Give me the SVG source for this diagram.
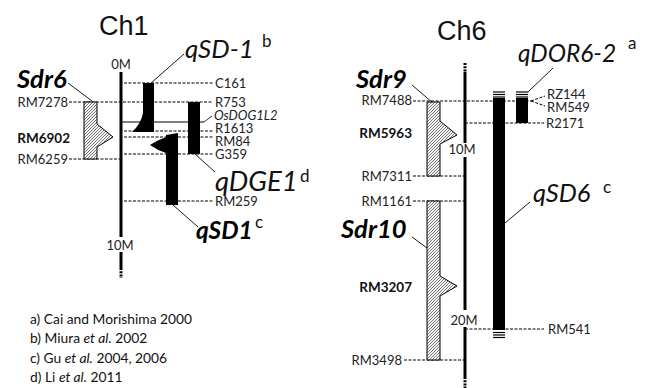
<svg xmlns="http://www.w3.org/2000/svg" width="646" height="388" viewBox="0 0 646 388">
<defs>
<pattern id="hatch" patternUnits="userSpaceOnUse" width="3" height="3">
<rect width="3" height="3" fill="#f4f4f4"/>
<path d="M-1,1 L1,-1 M0,3 L3,0 M2,4 L4,2" stroke="#444" stroke-width="0.7"/>
</pattern>
<style>
.lbl{font-family:Lato,"Liberation Sans",sans-serif;font-size:13px;fill:#222}
.bl{font-family:Lato,"Liberation Sans",sans-serif;font-size:13.5px;font-weight:bold;fill:#111}
.ti{font-family:"Liberation Sans",Arial,sans-serif;font-size:27px;fill:#111}
.q{font-family:Lato,"Liberation Sans",sans-serif;font-style:italic;fill:#111}
.sdr{font-family:Lato,"Liberation Sans",sans-serif;font-style:italic;font-weight:bold;fill:#000}
.sup{font-family:Lato,"Liberation Sans",sans-serif;font-size:17px;fill:#111}
.dash{stroke:#000;stroke-width:1;stroke-dasharray:3 1.5;fill:none}
.lead{stroke:#000;stroke-width:0.9;fill:none}
.chr{stroke:#000;stroke-width:3;fill:none}
.hat{fill:url(#hatch);stroke:#000;stroke-width:1}
.bar{fill:#000}
.stripe{stroke:#000;stroke-width:1.2}
.ref{font-family:Lato,"Liberation Sans",sans-serif;font-size:13.8px;fill:#111}
</style>
</defs>
<rect width="646" height="388" fill="#fff"/>

<g id="connectors">
<line class="dash" x1="69" y1="102" x2="213" y2="102"/>
<line class="dash" x1="124" y1="83" x2="213" y2="83"/>
<line x1="121" y1="122" x2="204" y2="122" stroke="#000" stroke-width="1"/>
<line x1="204" y1="122" x2="212" y2="116" stroke="#000" stroke-width="0.8"/>
<line class="dash" x1="124" y1="131" x2="213" y2="131"/>
<line class="dash" x1="124" y1="137" x2="213" y2="137"/>
<line class="dash" x1="124" y1="154" x2="213" y2="154"/>
<line class="dash" x1="69" y1="159" x2="121" y2="159"/>
<line class="dash" x1="124" y1="201" x2="213" y2="201"/>
<line class="dash" x1="413" y1="101" x2="531" y2="101"/>
<line class="dash" x1="531" y1="101" x2="545" y2="96"/>
<line class="dash" x1="531" y1="101" x2="545" y2="106"/>
<line class="dash" x1="465" y1="123" x2="544" y2="123"/>
<line class="dash" x1="413" y1="176" x2="465" y2="176"/>
<line class="dash" x1="413" y1="201" x2="465" y2="201"/>
<line class="dash" x1="465" y1="329" x2="544" y2="329"/>
<line class="dash" x1="404" y1="360" x2="465" y2="360"/>
<line class="lead" x1="68" y1="83" x2="92" y2="101"/>
<line class="lead" x1="151" y1="83" x2="184" y2="54"/>
<line class="lead" x1="195" y1="154" x2="215" y2="172"/>
<line class="lead" x1="173" y1="205" x2="198" y2="227"/>
<line class="lead" x1="412" y1="85" x2="433" y2="103"/>
<line class="lead" x1="528" y1="92" x2="553" y2="68"/>
<line class="lead" x1="505" y1="223" x2="530" y2="202"/>
<line class="lead" x1="412" y1="237" x2="427" y2="248"/>
</g>

<g id="ch1">
<text class="ti" x="99" y="35">Ch1</text>
<line class="chr" x1="121" y1="72" x2="121" y2="237"/>
<line class="chr" x1="121" y1="252" x2="121" y2="268"/>
<line class="chr" x1="121" y1="268" x2="121" y2="278" stroke-dasharray="2 1.2"/>
<text class="lbl" x="121" y="69" text-anchor="middle">0M</text>
<text class="lbl" x="120" y="249.5" text-anchor="middle">10M</text>
</g>

<g id="sdr6">
<path class="hat" d="M84,102 H97 V124 L113,137 L97,147 V159 H84 Z"/>
<text class="sdr" x="17" y="88" font-size="25.5">Sdr6</text>
<text class="lbl" x="68" y="106.5" text-anchor="end">RM7278</text>
<text class="bl" x="70" y="143" text-anchor="end">RM6902</text>
<text class="lbl" x="68" y="163.5" text-anchor="end">RM6259</text>
</g>

<g id="qSD-1">
<path class="bar" d="M143,83 H154 V132 H132 Q141,124 143,113 Z"/>
<text class="q" x="185" y="58" font-size="26">qSD-1</text>
<text class="sup" x="262" y="47">b</text>
</g>

<g id="qDGE1">
<rect class="bar" x="188" y="102" width="12" height="52"/>
<text class="q" x="215" y="191" font-size="27.5">qDGE1</text>
<text class="sup" x="300" y="182">d</text>
</g>

<g id="qSD1">
<path class="bar" d="M166,135 L178,133 V205 H166 V153 Q157,150 150,145 Q158,140 166,137 Z"/>
<text class="sdr" x="196" y="239" font-size="24.5">qSD1</text>
<text class="sup" x="255" y="228">c</text>
</g>

<g id="ch1-markers">
<text class="lbl" x="215" y="88">C161</text>
<text class="lbl" x="215" y="107">R753</text>
<text class="lbl" x="214" y="120" font-style="italic">OsDOG1L2</text>
<text class="lbl" x="215" y="133">R1613</text>
<text class="lbl" x="215" y="146">RM84</text>
<text class="lbl" x="215" y="159">G359</text>
<text class="lbl" x="215" y="206">RM259</text>
</g>

<g id="ch6">
<text class="ti" x="437" y="40">Ch6</text>
<line class="chr" x1="465" y1="63" x2="465" y2="72" stroke-dasharray="2 1.2"/>
<line class="chr" x1="465" y1="72" x2="465" y2="143"/>
<line class="chr" x1="465" y1="157" x2="465" y2="310"/>
<line class="chr" x1="465" y1="327" x2="465" y2="377"/>
<line class="chr" x1="465" y1="377" x2="465" y2="388" stroke-dasharray="2 1.2"/>
<text class="lbl" x="462" y="154" text-anchor="middle">10M</text>
<text class="lbl" x="464" y="324.5" text-anchor="middle">20M</text>
</g>

<g id="sdr9">
<path class="hat" d="M427,102 H440 V121 L457,135 L440,144 V176 H427 Z"/>
<text class="sdr" x="356" y="88" font-size="25.5">Sdr9</text>
<text class="lbl" x="412" y="104.5" text-anchor="end">RM7488</text>
<text class="bl" x="412" y="138" text-anchor="end">RM5963</text>
<text class="lbl" x="412" y="180.5" text-anchor="end">RM7311</text>
</g>

<g id="sdr10">
<path class="hat" d="M427,201 H440 V276 L457,286 L440,296 V360 H427 Z"/>
<text class="sdr" x="341" y="238" font-size="25.5">Sdr10</text>
<text class="lbl" x="412" y="205.5" text-anchor="end">RM1161</text>
<text class="bl" x="412" y="292" text-anchor="end">RM3207</text>
<text class="lbl" x="402" y="364.5" text-anchor="end">RM3498</text>
</g>

<g id="qSD6">
<rect class="bar" x="493" y="98" width="12" height="232"/>
<line class="stripe" x1="493" y1="92" x2="505" y2="92"/>
<line class="stripe" x1="493" y1="94.5" x2="505" y2="94.5"/>
<line class="stripe" x1="493" y1="97" x2="505" y2="97"/>
<line class="stripe" x1="493" y1="332.5" x2="505" y2="332.5"/>
<line class="stripe" x1="493" y1="335" x2="505" y2="335"/>
<line class="stripe" x1="493" y1="337.5" x2="505" y2="337.5"/>
<text class="q" x="533" y="202" font-size="25.5">qSD6</text>
<text class="sup" x="603" y="193">c</text>
</g>

<g id="qDOR6-2">
<rect class="bar" x="516" y="98" width="12" height="25"/>
<line class="stripe" x1="516" y1="92" x2="528" y2="92"/>
<line class="stripe" x1="516" y1="94.5" x2="528" y2="94.5"/>
<line class="stripe" x1="516" y1="97" x2="528" y2="97"/>
<text class="q" x="518" y="62" font-size="24.5">qDOR6-2</text>
<text class="sup" x="628" y="49">a</text>
</g>

<g id="ch6-markers">
<text class="lbl" x="547" y="99">RZ144</text>
<text class="lbl" x="547" y="112">RM549</text>
<text class="lbl" x="546" y="128">R2171</text>
<text class="lbl" x="548" y="333.5">RM541</text>
</g>

<g id="references">
<text class="ref" x="30" y="324">a) Cai and Morishima 2000</text>
<text class="ref" x="30" y="343">b) Miura <tspan font-style="italic">et al.</tspan> 2002</text>
<text class="ref" x="30" y="363">c) Gu <tspan font-style="italic">et al.</tspan> 2004, 2006</text>
<text class="ref" x="30" y="382">d) Li <tspan font-style="italic">et al.</tspan> 2011</text>
</g>
</svg>
